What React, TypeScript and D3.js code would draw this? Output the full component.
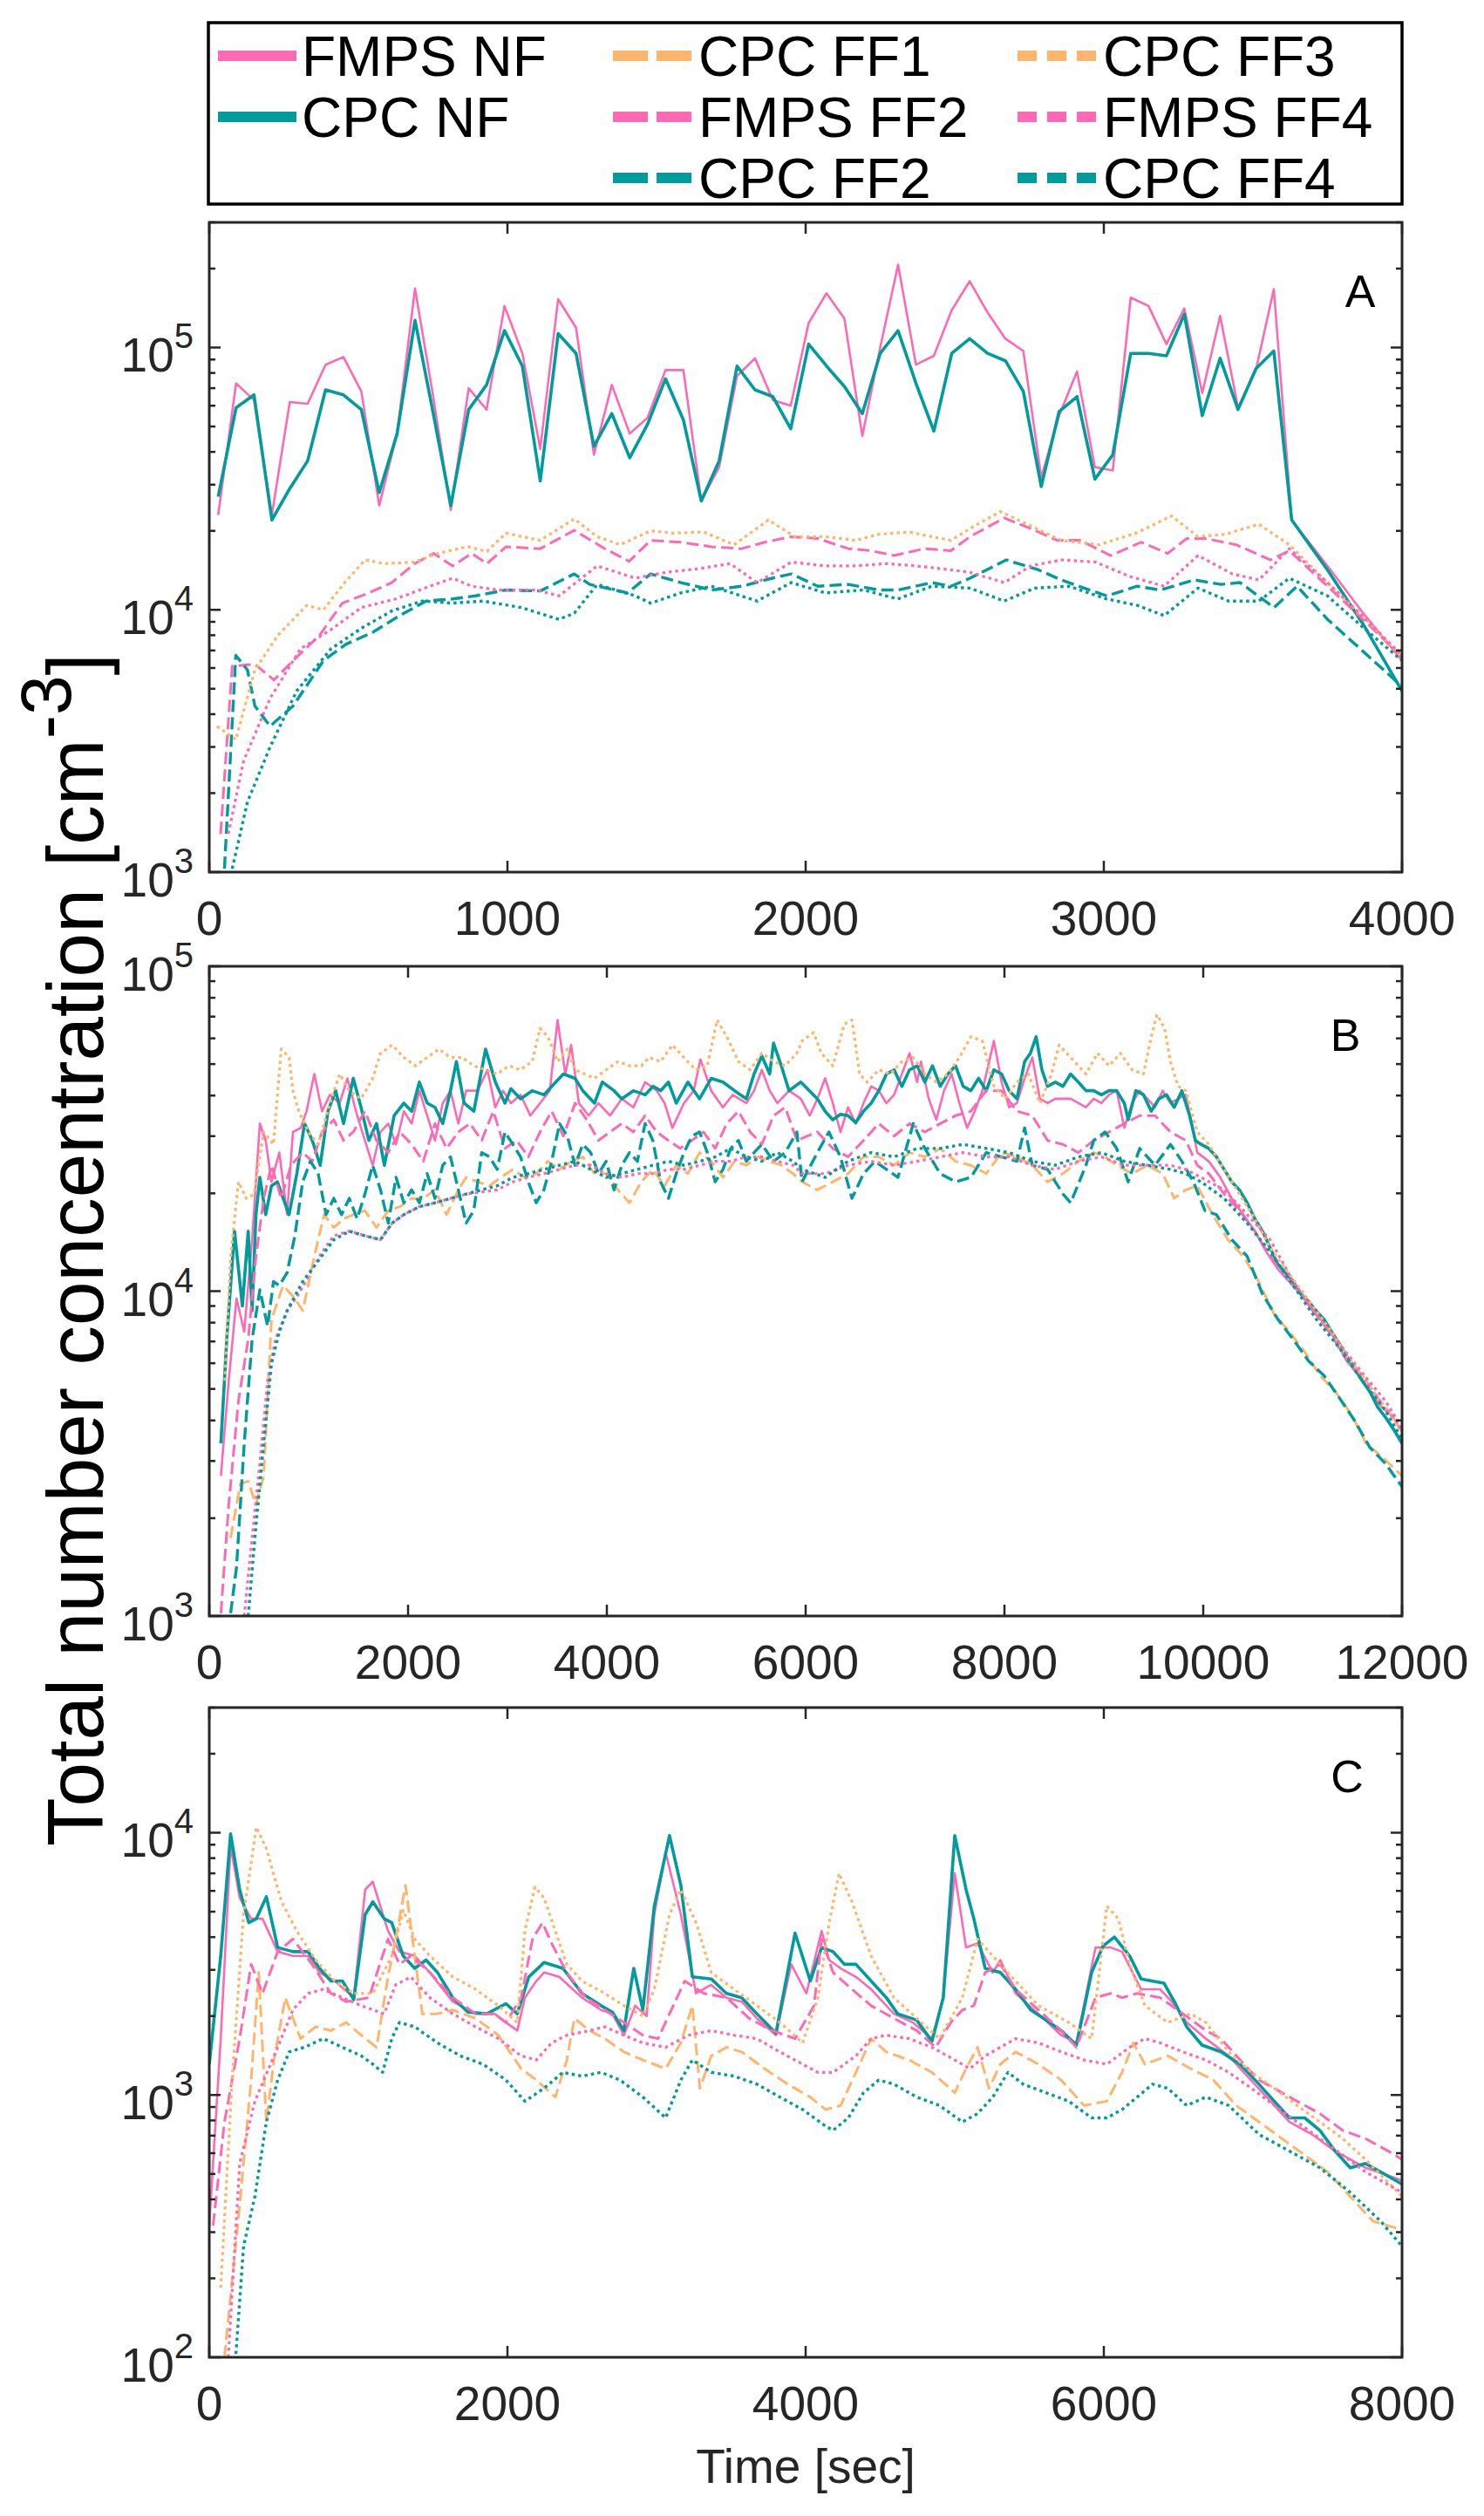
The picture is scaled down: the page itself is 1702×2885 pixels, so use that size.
import React from "react";
import * as d3 from "d3";

type Pt = [number, number];

// ---- colours / series styles ----
const PINK = "#FF69B4";
const TEAL = "#009B9B";
const ORANGE = "#FFB56B";

const seriesNames = ["FMPS NF", "CPC NF", "CPC FF1", "FMPS FF2", "CPC FF2", "CPC FF3", "FMPS FF4", "CPC FF4"];

const seriesStyle: Record<string, { color: string; dash: string | null; width: number; legendDash: string | null }> = {
  "FMPS NF": { color: PINK, dash: null, width: 2.6, legendDash: null },
  "CPC NF": { color: TEAL, dash: null, width: 3.6, legendDash: null },
  "CPC FF1": { color: ORANGE, dash: "14 6", width: 3, legendDash: "40 10" },
  "FMPS FF2": { color: PINK, dash: "14 6", width: 3, legendDash: "40 10" },
  "CPC FF2": { color: TEAL, dash: "14 6", width: 3.4, legendDash: "40 10" },
  "CPC FF3": { color: ORANGE, dash: "3.5 4", width: 3.2, legendDash: "22 12" },
  "FMPS FF4": { color: PINK, dash: "3.5 4", width: 3.2, legendDash: "22 12" },
  "CPC FF4": { color: TEAL, dash: "3.5 4", width: 3.4, legendDash: "22 12" },
};

// ---- panel A data (time [s], concentration [cm^-3]) ----
const timeA_NF = [30, 90, 150, 210, 270, 330, 390, 450, 510, 570, 630, 690, 750, 810, 870, 930, 990, 1050, 1110, 1170,
  1230, 1290, 1350, 1410, 1470, 1530, 1590, 1650, 1710, 1770, 1830, 1890, 1950, 2010, 2070, 2130, 2190, 2250, 2310, 2370,
  2430, 2490, 2550, 2610, 2670, 2730, 2790, 2850, 2910, 2970, 3030, 3090, 3150, 3210, 3270, 3330, 3390, 3450, 3510, 3570,
  3630, 3750, 3870, 4000];

const A_FMPS_NF = [2.3e4, 7.3e4, 6.3e4, 2.3e4, 6.2e4, 6.1e4, 8.6e4, 9.2e4, 6.8e4, 2.5e4, 4.7e4, 1.68e5, 6.6e4, 2.4e4, 7.0e4,
  5.8e4, 1.44e5, 9.5e4, 4.1e4, 1.53e5, 1.19e5, 3.9e4, 7.2e4, 4.7e4, 5.4e4, 8.2e4, 8.2e4, 2.6e4, 3.5e4, 7.8e4, 9.1e4, 6.3e4,
  6.0e4, 1.24e5, 1.61e5, 1.29e5, 4.6e4, 1.0e5, 2.07e5, 8.6e4, 9.3e4, 1.39e5, 1.79e5, 1.36e5, 1.08e5, 9.7e4, 3.2e4, 5.5e4,
  8.1e4, 3.5e4, 3.4e4, 1.55e5, 1.44e5, 1.03e5, 1.41e5, 6.7e4, 1.32e5, 5.9e4, 8.2e4, 1.67e5, 2.2e4, 1.47e4, 9.7e3, 6.4e3];

const A_CPC_NF = [2.7e4, 5.9e4, 6.6e4, 2.2e4, 2.9e4, 3.7e4, 6.9e4, 6.6e4, 5.8e4, 2.8e4, 4.7e4, 1.27e5, 5.7e4, 2.5e4, 5.8e4,
  7.2e4, 1.16e5, 8.5e4, 3.1e4, 1.13e5, 9.5e4, 4.2e4, 5.6e4, 3.8e4, 5.1e4, 7.6e4, 5.3e4, 2.6e4, 3.7e4, 8.5e4, 6.9e4, 6.5e4,
  4.9e4, 1.03e5, 8.5e4, 7.1e4, 5.6e4, 9.5e4, 1.16e5, 7.3e4, 4.8e4, 9.5e4, 1.08e5, 9.5e4, 8.9e4, 6.8e4, 2.95e4, 5.7e4,
  6.5e4, 3.15e4, 3.9e4, 9.5e4, 9.5e4, 9.3e4, 1.34e5, 5.5e4, 9.1e4, 5.8e4, 8.3e4, 9.7e4, 2.2e4, 1.42e4, 8.8e3, 4.9e3];

const A_CPC_FF3: Pt[] = [[26, 3600], [89, 3200], [153, 5900], [230, 8000], [327, 1.04e4], [383, 1.0e4], [454, 1.27e4],
  [523, 1.55e4], [587, 1.5e4], [689, 1.52e4], [765, 1.64e4], [867, 1.74e4], [931, 1.67e4], [995, 1.96e4], [1110, 1.84e4],
  [1224, 2.22e4], [1301, 1.9e4], [1378, 1.77e4], [1480, 2.0e4], [1556, 1.96e4], [1658, 1.98e4], [1760, 1.77e4],
  [1875, 2.2e4], [1964, 1.9e4], [2066, 1.9e4], [2168, 1.84e4], [2245, 1.94e4], [2347, 1.98e4], [2423, 1.9e4],
  [2487, 1.84e4], [2551, 2.04e4], [2653, 2.37e4], [2755, 2.09e4], [2857, 1.84e4], [2985, 1.77e4], [3112, 1.97e4],
  [3227, 2.28e4], [3316, 1.9e4], [3406, 1.94e4], [3520, 2.12e4], [3622, 1.77e4], [3750, 1.27e4], [3878, 9200], [4000, 6600]];

const A_FMPS_FF2: Pt[] = [[38, 1400], [77, 6100], [153, 6200], [217, 5400], [281, 6400], [370, 8000], [446, 1.06e4],
  [536, 1.16e4], [612, 1.27e4], [689, 1.5e4], [753, 1.64e4], [816, 1.47e4], [880, 1.64e4], [931, 1.5e4], [995, 1.74e4],
  [1110, 1.71e4], [1224, 2.01e4], [1327, 1.71e4], [1408, 1.53e4], [1480, 1.84e4], [1582, 1.81e4], [1684, 1.74e4],
  [1786, 1.71e4], [1862, 1.81e4], [1952, 1.9e4], [2041, 1.87e4], [2143, 1.71e4], [2219, 1.68e4], [2296, 1.61e4],
  [2398, 1.71e4], [2487, 1.68e4], [2551, 1.9e4], [2666, 2.24e4], [2755, 2.04e4], [2844, 1.84e4], [2921, 1.84e4],
  [3023, 1.61e4], [3125, 1.81e4], [3214, 1.64e4], [3278, 1.87e4], [3342, 1.87e4], [3444, 1.77e4], [3559, 1.55e4],
  [3622, 1.68e4], [3750, 1.23e4], [3878, 9000], [4000, 6600]];

const A_FMPS_FF4: Pt[] = [[64, 1400], [115, 2650], [204, 4600], [306, 7100], [408, 8400], [510, 1.02e4], [625, 1.1e4],
  [740, 1.23e4], [816, 1.32e4], [880, 1.23e4], [969, 1.19e4], [1097, 1.19e4], [1173, 1.13e4], [1301, 1.47e4],
  [1429, 1.32e4], [1531, 1.39e4], [1633, 1.43e4], [1747, 1.5e4], [1837, 1.27e4], [1952, 1.52e4], [2066, 1.47e4],
  [2168, 1.47e4], [2270, 1.5e4], [2372, 1.47e4], [2487, 1.42e4], [2551, 1.39e4], [2666, 1.27e4], [2755, 1.47e4],
  [2857, 1.55e4], [2972, 1.52e4], [3087, 1.34e4], [3202, 1.23e4], [3316, 1.61e4], [3431, 1.37e4], [3520, 1.3e4],
  [3622, 1.71e4], [3750, 1.27e4], [3878, 9200], [4000, 6700]];

const A_CPC_FF2: Pt[] = [[51, 1030], [89, 6700], [128, 5900], [153, 4300], [204, 3600], [281, 4300], [383, 6400],
  [459, 7400], [548, 8200], [638, 9500], [727, 1.08e4], [816, 1.1e4], [893, 1.13e4], [995, 1.19e4], [1110, 1.18e4],
  [1224, 1.37e4], [1276, 1.25e4], [1403, 1.16e4], [1480, 1.37e4], [1582, 1.27e4], [1684, 1.19e4], [1786, 1.23e4],
  [1888, 1.32e4], [1952, 1.37e4], [2041, 1.23e4], [2143, 1.25e4], [2245, 1.19e4], [2309, 1.19e4], [2423, 1.27e4],
  [2487, 1.23e4], [2551, 1.32e4], [2673, 1.55e4], [2781, 1.42e4], [2857, 1.3e4], [2934, 1.21e4], [3010, 1.13e4],
  [3112, 1.23e4], [3189, 1.19e4], [3304, 1.3e4], [3393, 1.25e4], [3457, 1.27e4], [3571, 1.02e4], [3648, 1.23e4],
  [3750, 9200], [3878, 6800], [4000, 5100]];

const A_CPC_FF4: Pt[] = [[77, 1030], [128, 1850], [204, 3000], [293, 4900], [408, 7100], [510, 8500], [612, 9900],
  [714, 1.08e4], [816, 1.06e4], [918, 1.08e4], [1046, 1.02e4], [1173, 9200], [1224, 9700], [1301, 1.25e4], [1429, 1.13e4],
  [1480, 1.06e4], [1582, 1.16e4], [1684, 1.23e4], [1837, 1.08e4], [1952, 1.27e4], [2066, 1.16e4], [2194, 1.19e4],
  [2309, 1.1e4], [2423, 1.23e4], [2551, 1.21e4], [2666, 1.08e4], [2768, 1.21e4], [2883, 1.23e4], [3010, 1.1e4],
  [3112, 1.04e4], [3202, 9500], [3316, 1.21e4], [3418, 1.08e4], [3520, 1.08e4], [3622, 1.32e4], [3750, 1.13e4],
  [3878, 8400], [4000, 6400]];

// ---- panel B data ----
const B_CPC_NF: Pt[] = [[117, 3400], [176, 7100], [254, 1.53e4], [333, 9000], [392, 1.53e4], [431, 8700], [470, 1.72e4],
  [509, 2.24e4], [568, 1.72e4], [626, 2.11e4], [685, 2.17e4], [744, 1.93e4], [803, 1.72e4], [881, 2.3e4], [959, 3.28e4],
  [1037, 2.91e4], [1116, 2.44e4], [1194, 3.58e4], [1272, 4.14e4], [1351, 3.28e4], [1449, 4.52e4], [1527, 3.68e4],
  [1605, 2.91e4], [1683, 3.28e4], [1762, 2.44e4], [1860, 3.47e4], [1958, 3.79e4], [2036, 3.58e4], [2114, 4.4e4],
  [2192, 3.79e4], [2271, 3.68e4], [2349, 3.28e4], [2427, 4.14e4], [2486, 5.09e4], [2564, 3.79e4], [2662, 3.58e4],
  [2780, 5.56e4], [2878, 4.4e4], [2975, 3.79e4], [3034, 4.2e4], [3132, 3.91e4], [3249, 4.14e4], [3367, 4.02e4],
  [3445, 4.27e4], [3563, 4.66e4], [3680, 4.52e4], [3758, 4.14e4], [3876, 3.79e4], [3954, 4.4e4], [4072, 4.14e4],
  [4150, 3.91e4], [4267, 4.14e4], [4385, 4.02e4], [4463, 4.27e4], [4541, 4.14e4], [4620, 4.4e4], [4698, 3.79e4],
  [4815, 4.4e4], [4933, 3.91e4], [5050, 4.52e4], [5168, 4.4e4], [5285, 4.14e4], [5403, 3.91e4], [5481, 4.66e4],
  [5559, 5.3e4], [5638, 4.66e4], [5677, 5.8e4], [5755, 4.94e4], [5833, 4.14e4], [5951, 4.4e4], [6118, 3.91e4],
  [6196, 3.58e4], [6273, 3.37e4], [6350, 3.5e4], [6427, 3.47e4], [6504, 3.3e4], [6582, 3.58e4], [6659, 3.79e4],
  [6736, 4.14e4], [6813, 4.66e4], [6890, 4.8e4], [6968, 4.27e4], [7045, 4.8e4], [7122, 4.94e4], [7199, 4.4e4],
  [7276, 4.94e4], [7354, 4.27e4], [7431, 4.66e4], [7508, 4.94e4], [7585, 4.27e4], [7662, 4.14e4], [7740, 4.52e4],
  [7817, 4.14e4], [7894, 4.8e4], [7971, 4.66e4], [8048, 4.14e4], [8126, 3.91e4], [8203, 5.09e4], [8261, 5.4e4],
  [8319, 6.07e4], [8377, 4.8e4], [8434, 4.27e4], [8512, 4.4e4], [8589, 4.27e4], [8666, 4.66e4], [8743, 4.4e4],
  [8820, 4.14e4], [8898, 4.14e4], [8975, 4.02e4], [9052, 4.14e4], [9129, 4.14e4], [9206, 3.79e4], [9245, 3.37e4],
  [9322, 4.14e4], [9399, 4.02e4], [9477, 3.58e4], [9554, 3.91e4], [9631, 4.02e4], [9708, 3.68e4], [9785, 4.14e4],
  [9863, 3.47e4], [9921, 2.91e4], [9978, 2.83e4], [10056, 2.75e4], [10133, 2.59e4], [10210, 2.37e4], [10287, 2.17e4],
  [10364, 2.05e4], [10442, 1.87e4], [10519, 1.67e4], [10596, 1.53e4], [10673, 1.36e4], [10750, 1.21e4], [10828, 1.14e4],
  [10905, 1.07e4], [10982, 9800], [11059, 9300], [11136, 8700], [11214, 8200], [11291, 7500], [11368, 6900],
  [11445, 6300], [11522, 5800], [11600, 5300], [11677, 4900], [11754, 4400], [11831, 4100], [11928, 3700], [12000, 3400]];

const B_FMPS_NF: Pt[] = [[117, 2700], [196, 5300], [274, 9500], [352, 7500], [431, 1.44e4], [509, 3.28e4], [568, 2.91e4],
  [626, 2.17e4], [705, 2.67e4], [783, 1.72e4], [842, 3.09e4], [920, 3.18e4], [979, 3.58e4], [1057, 4.66e4], [1135, 3.58e4],
  [1214, 4.02e4], [1312, 3.79e4], [1390, 4.52e4], [1488, 3.47e4], [1566, 2.91e4], [1644, 2.44e4], [1723, 3.09e4],
  [1801, 3.28e4], [1879, 2.83e4], [1958, 3.58e4], [2036, 3.28e4], [2114, 4.14e4], [2192, 3.47e4], [2271, 2.91e4],
  [2349, 3.79e4], [2427, 4.14e4], [2506, 3.28e4], [2584, 4.14e4], [2701, 4.14e4], [2799, 4.8e4], [2878, 3.68e4],
  [2956, 4.14e4], [3034, 3.79e4], [3132, 4.02e4], [3230, 3.47e4], [3328, 3.79e4], [3426, 4.14e4], [3504, 6.83e4],
  [3582, 4.66e4], [3641, 5.72e4], [3719, 3.79e4], [3817, 3.47e4], [3915, 3.79e4], [4032, 3.47e4], [4150, 3.91e4],
  [4267, 3.68e4], [4385, 4.4e4], [4502, 4.14e4], [4581, 3.79e4], [4659, 3.18e4], [4776, 3.79e4], [4874, 4.14e4],
  [4941, 5.17e4], [5050, 4.14e4], [5168, 3.68e4], [5266, 4.02e4], [5403, 3.79e4], [5481, 4.14e4], [5559, 4.8e4],
  [5638, 4.14e4], [5716, 3.79e4], [5833, 4.14e4], [5951, 3.91e4], [6041, 3.47e4], [6118, 3.91e4], [6196, 4.52e4],
  [6273, 3.79e4], [6350, 3.09e4], [6427, 3.68e4], [6504, 3.28e4], [6582, 3.79e4], [6659, 4.27e4], [6736, 4.14e4],
  [6813, 3.79e4], [6890, 4.02e4], [6968, 4.66e4], [7045, 5.4e4], [7122, 4.4e4], [7161, 5.09e4], [7238, 3.91e4],
  [7315, 3.37e4], [7392, 4.14e4], [7469, 4.66e4], [7547, 3.79e4], [7624, 3.18e4], [7701, 3.58e4], [7778, 4.14e4],
  [7894, 5.89e4], [7971, 4.4e4], [8048, 3.68e4], [8126, 3.79e4], [8203, 4.52e4], [8280, 5.24e4], [8357, 3.91e4],
  [8434, 3.79e4], [8512, 3.91e4], [8666, 3.91e4], [8820, 3.68e4], [8898, 3.91e4], [8975, 3.79e4], [9052, 4.02e4],
  [9129, 4.14e4], [9206, 3.18e4], [9284, 3.79e4], [9361, 4.14e4], [9438, 3.91e4], [9515, 3.68e4], [9592, 4.14e4],
  [9670, 3.79e4], [9747, 3.91e4], [9824, 4.02e4], [9901, 3.09e4], [9940, 2.67e4], [10056, 2.51e4], [10171, 2.24e4],
  [10287, 1.93e4], [10403, 1.72e4], [10519, 1.53e4], [10635, 1.32e4], [10750, 1.17e4], [10866, 1.07e4], [10982, 9800],
  [11098, 8700], [11214, 8000], [11329, 7100], [11445, 6100], [11561, 5500], [11677, 4900], [11793, 4400], [11908, 4100],
  [12000, 3700]];

const B_CPC_FF3: Pt[] = [[157, 5300], [215, 1.28e4], [294, 2.17e4], [372, 1.93e4], [450, 1.99e4], [548, 3.09e4],
  [646, 2.83e4], [724, 5.56e4], [803, 5.24e4], [842, 4.14e4], [900, 3.58e4], [998, 3.09e4], [1096, 2.83e4], [1214, 3.79e4],
  [1312, 4.66e4], [1409, 4.14e4], [1527, 3.91e4], [1644, 4.52e4], [1723, 5.4e4], [1840, 5.72e4], [1958, 5.24e4],
  [2075, 4.94e4], [2192, 5.24e4], [2310, 5.56e4], [2427, 5.24e4], [2545, 5.24e4], [2662, 4.94e4], [2780, 4.8e4],
  [2897, 4.66e4], [3015, 4.94e4], [3132, 4.8e4], [3249, 5.09e4], [3328, 6.44e4], [3406, 6.07e4], [3504, 5.09e4],
  [3602, 5.56e4], [3680, 4.8e4], [3778, 4.66e4], [3876, 4.52e4], [3993, 4.8e4], [4111, 5.09e4], [4228, 4.94e4],
  [4346, 4.94e4], [4424, 5.24e4], [4541, 5.09e4], [4659, 5.72e4], [4776, 5.24e4], [4894, 4.8e4], [5011, 4.94e4],
  [5109, 6.83e4], [5207, 6.07e4], [5324, 5.09e4], [5442, 4.8e4], [5559, 5.4e4], [5677, 5.09e4], [5794, 4.94e4],
  [5912, 5.4e4], [5964, 5.89e4], [6080, 6.25e4], [6157, 5.4e4], [6273, 4.94e4], [6389, 6.63e4], [6466, 6.83e4],
  [6543, 4.66e4], [6620, 4.4e4], [6736, 4.8e4], [6852, 4.66e4], [6968, 5.09e4], [7083, 5.24e4], [7199, 4.66e4],
  [7315, 4.4e4], [7431, 4.66e4], [7547, 5.24e4], [7662, 6.07e4], [7778, 5.89e4], [7894, 4.27e4], [8010, 3.91e4],
  [8126, 4.4e4], [8241, 4.66e4], [8357, 3.79e4], [8473, 4.66e4], [8550, 5.72e4], [8666, 5.24e4], [8820, 4.66e4],
  [8936, 5.4e4], [9052, 4.94e4], [9168, 5.4e4], [9284, 4.8e4], [9399, 4.66e4], [9477, 6.07e4], [9535, 7.1e4],
  [9612, 6.44e4], [9670, 5.09e4], [9747, 4.27e4], [9824, 4.14e4], [9940, 3.09e4], [10056, 2.83e4], [10210, 2.37e4],
  [10364, 1.99e4], [10519, 1.67e4], [10673, 1.36e4], [10828, 1.17e4], [10982, 1.01e4], [11136, 8700], [11291, 7500],
  [11445, 6300], [11600, 5500], [11754, 4700], [11908, 4100], [12000, 3700]];

const B_CPC_FF1: Pt[] = [[215, 1740], [313, 2550], [392, 2600], [470, 2200], [548, 2700], [626, 8200], [744, 1.04e4],
  [861, 9500], [940, 8700], [1057, 1.28e4], [1155, 1.72e4], [1253, 1.57e4], [1351, 1.67e4], [1449, 1.72e4],
  [1566, 1.77e4], [1683, 1.57e4], [1801, 1.77e4], [1918, 1.82e4], [2036, 1.93e4], [2153, 1.93e4], [2271, 2.05e4],
  [2388, 1.72e4], [2506, 2.05e4], [2584, 2.24e4], [2701, 2.17e4], [2819, 2.11e4], [2936, 2.24e4], [3054, 2.37e4],
  [3171, 2.24e4], [3289, 2.3e4], [3406, 2.51e4], [3524, 2.37e4], [3641, 2.51e4], [3758, 2.59e4], [3876, 2.3e4],
  [3993, 2.3e4], [4111, 2.05e4], [4228, 1.87e4], [4346, 2.17e4], [4463, 2.37e4], [4581, 2.11e4], [4698, 2.44e4],
  [4815, 2.3e4], [4933, 2.67e4], [5050, 2.51e4], [5168, 2.24e4], [5285, 2.51e4], [5403, 2.44e4], [5520, 2.59e4],
  [5638, 2.51e4], [5755, 2.44e4], [5873, 2.3e4], [5964, 2.17e4], [6118, 2.05e4], [6273, 2.17e4], [6427, 2.3e4],
  [6582, 2.59e4], [6736, 2.59e4], [6890, 2.44e4], [7045, 2.67e4], [7199, 2.59e4], [7354, 2.75e4], [7508, 2.51e4],
  [7662, 2.44e4], [7817, 2.3e4], [7971, 2.67e4], [8126, 2.59e4], [8280, 2.44e4], [8434, 2.17e4], [8589, 2.3e4],
  [8743, 2.51e4], [8898, 2.67e4], [9013, 2.59e4], [9129, 2.44e4], [9284, 2.3e4], [9438, 2.44e4], [9592, 2.3e4],
  [9708, 1.93e4], [9824, 2.05e4], [9940, 2.11e4], [10094, 1.72e4], [10249, 1.44e4], [10403, 1.28e4], [10557, 1.07e4],
  [10712, 8500], [10866, 7500], [11021, 6500], [11175, 5500], [11329, 4900], [11484, 4200], [11638, 3400], [11793, 3100],
  [12000, 2700]];

const B_FMPS_FF2: Pt[] = [[117, 1020], [196, 2200], [294, 4600], [392, 7100], [470, 1.28e4], [548, 1.93e4], [626, 2.44e4],
  [724, 1.93e4], [822, 2.44e4], [940, 2.67e4], [1037, 2.51e4], [1135, 3.09e4], [1253, 3.37e4], [1351, 2.91e4],
  [1449, 3.09e4], [1566, 3.58e4], [1683, 2.91e4], [1801, 2.67e4], [1918, 3.09e4], [2036, 2.83e4], [2153, 2.51e4],
  [2271, 3.28e4], [2388, 2.75e4], [2506, 3.09e4], [2623, 3.28e4], [2741, 2.91e4], [2858, 3.58e4], [2975, 2.75e4],
  [3093, 2.91e4], [3210, 2.59e4], [3328, 3.09e4], [3445, 3.58e4], [3563, 3.0e4], [3680, 3.79e4], [3798, 3.37e4],
  [3915, 2.91e4], [4032, 3.09e4], [4150, 3.28e4], [4267, 3.09e4], [4385, 3.47e4], [4502, 3.09e4], [4620, 2.91e4],
  [4737, 2.75e4], [4855, 2.91e4], [4972, 3.09e4], [5090, 2.75e4], [5207, 3.28e4], [5324, 3.58e4], [5442, 3.09e4],
  [5559, 2.83e4], [5677, 3.47e4], [5794, 3.68e4], [5912, 2.91e4], [6118, 3.09e4], [6273, 2.75e4], [6427, 2.59e4],
  [6582, 2.91e4], [6736, 3.28e4], [6890, 3.0e4], [7045, 3.28e4], [7199, 3.09e4], [7354, 3.28e4], [7508, 3.47e4],
  [7662, 3.58e4], [7817, 4.14e4], [7971, 4.14e4], [8126, 3.58e4], [8280, 3.47e4], [8434, 2.91e4], [8589, 2.83e4],
  [8743, 2.67e4], [8898, 2.91e4], [9052, 3.09e4], [9206, 3.28e4], [9361, 3.47e4], [9515, 3.47e4], [9670, 3.09e4],
  [9824, 2.91e4], [9940, 2.44e4], [10056, 2.3e4], [10210, 1.99e4], [10364, 1.77e4], [10519, 1.53e4], [10673, 1.28e4],
  [10828, 1.1e4], [10982, 9800], [11136, 8500], [11291, 7300], [11445, 6100], [11600, 5500], [11754, 4700], [11908, 4100],
  [12000, 3700]];

const B_CPC_FF2: Pt[] = [[215, 1020], [274, 1410], [352, 3400], [431, 7100], [509, 1.01e4], [587, 7800], [646, 1.07e4],
  [705, 1.04e4], [783, 1.14e4], [861, 1.48e4], [940, 2.17e4], [1018, 2.51e4], [1096, 2.3e4], [1175, 1.72e4],
  [1253, 1.93e4], [1331, 1.72e4], [1409, 1.93e4], [1488, 1.67e4], [1566, 1.99e4], [1644, 2.44e4], [1723, 2.05e4],
  [1801, 1.62e4], [1879, 2.24e4], [1958, 1.87e4], [2036, 2.05e4], [2114, 1.87e4], [2192, 2.3e4], [2271, 1.93e4],
  [2349, 2.44e4], [2427, 2.59e4], [2506, 2.05e4], [2584, 1.62e4], [2662, 1.77e4], [2741, 2.67e4], [2819, 2.59e4],
  [2897, 2.37e4], [2975, 3.09e4], [3054, 2.83e4], [3132, 2.59e4], [3210, 2.17e4], [3289, 1.87e4], [3367, 2.05e4],
  [3445, 2.51e4], [3524, 3.28e4], [3602, 3.0e4], [3680, 2.44e4], [3758, 2.83e4], [3837, 2.67e4], [3915, 2.3e4],
  [3993, 2.51e4], [4072, 2.05e4], [4150, 2.44e4], [4228, 2.67e4], [4307, 2.51e4], [4385, 3.28e4], [4463, 2.91e4],
  [4541, 2.17e4], [4620, 1.93e4], [4698, 2.3e4], [4776, 2.67e4], [4855, 3.0e4], [4933, 3.09e4], [5011, 2.67e4],
  [5090, 2.17e4], [5168, 2.37e4], [5246, 2.75e4], [5324, 2.91e4], [5403, 2.51e4], [5481, 2.67e4], [5559, 2.83e4],
  [5677, 2.51e4], [5794, 2.67e4], [5912, 3.09e4], [5964, 2.17e4], [6118, 2.67e4], [6234, 3.09e4], [6350, 2.59e4],
  [6466, 1.93e4], [6582, 2.3e4], [6697, 2.51e4], [6813, 2.37e4], [6929, 2.24e4], [7083, 3.28e4], [7199, 2.75e4],
  [7354, 2.3e4], [7508, 2.17e4], [7662, 2.24e4], [7817, 2.67e4], [7971, 2.59e4], [8126, 2.51e4], [8203, 3.18e4],
  [8280, 2.44e4], [8434, 2.37e4], [8589, 1.99e4], [8666, 1.87e4], [8820, 2.44e4], [8898, 2.91e4], [9013, 3.09e4],
  [9129, 2.75e4], [9245, 2.17e4], [9361, 2.75e4], [9515, 2.44e4], [9670, 2.83e4], [9785, 2.51e4], [9901, 2.17e4],
  [10017, 1.77e4], [10133, 1.72e4], [10287, 1.44e4], [10442, 1.28e4], [10596, 9800], [10750, 8200], [10905, 7100],
  [11059, 6100], [11214, 5500], [11368, 4700], [11522, 4000], [11677, 3300], [11831, 2950], [12000, 2500]];

const B_FMPS_FF4: Pt[] = [[352, 1000], [431, 1740], [509, 2950], [587, 5300], [666, 7100], [783, 8700], [900, 9800],
  [1018, 1.14e4], [1135, 1.32e4], [1253, 1.48e4], [1409, 1.53e4], [1566, 1.48e4], [1723, 1.44e4], [1840, 1.62e4],
  [1958, 1.72e4], [2114, 1.82e4], [2271, 1.87e4], [2427, 1.93e4], [2584, 1.99e4], [2741, 2.02e4], [2897, 2.05e4],
  [3054, 2.17e4], [3210, 2.24e4], [3367, 2.3e4], [3524, 2.37e4], [3680, 2.44e4], [3837, 2.44e4], [3993, 2.3e4],
  [4150, 2.24e4], [4307, 2.3e4], [4463, 2.3e4], [4620, 2.37e4], [4776, 2.37e4], [4933, 2.44e4], [5090, 2.51e4],
  [5246, 2.51e4], [5403, 2.59e4], [5559, 2.59e4], [5716, 2.51e4], [5873, 2.44e4], [5964, 2.3e4], [6196, 2.3e4],
  [6427, 2.44e4], [6659, 2.51e4], [6890, 2.44e4], [7122, 2.51e4], [7354, 2.59e4], [7585, 2.67e4], [7817, 2.59e4],
  [8048, 2.59e4], [8280, 2.44e4], [8512, 2.37e4], [8743, 2.51e4], [8975, 2.59e4], [9206, 2.44e4], [9438, 2.44e4],
  [9670, 2.44e4], [9824, 2.37e4], [9978, 2.24e4], [10210, 2.05e4], [10442, 1.72e4], [10673, 1.44e4], [10905, 1.07e4],
  [11136, 8500], [11368, 6900], [11600, 5600], [11831, 4600], [12000, 3800]];

const B_CPC_FF4: Pt[] = [[392, 1000], [470, 1900], [548, 3400], [626, 6000], [705, 7500], [783, 8700], [940, 1.07e4],
  [1096, 1.24e4], [1253, 1.44e4], [1409, 1.53e4], [1566, 1.48e4], [1723, 1.44e4], [1840, 1.62e4], [1958, 1.72e4],
  [2114, 1.82e4], [2271, 1.87e4], [2427, 1.93e4], [2584, 1.99e4], [2741, 2.05e4], [2897, 2.11e4], [3054, 2.24e4],
  [3210, 2.3e4], [3367, 2.37e4], [3524, 2.44e4], [3680, 2.51e4], [3837, 2.37e4], [3993, 2.24e4], [4150, 2.3e4],
  [4307, 2.37e4], [4463, 2.44e4], [4620, 2.51e4], [4776, 2.44e4], [4933, 2.51e4], [5090, 2.59e4], [5246, 2.75e4],
  [5403, 2.59e4], [5559, 2.51e4], [5716, 2.67e4], [5873, 2.51e4], [5964, 2.37e4], [6196, 2.24e4], [6427, 2.51e4],
  [6659, 2.67e4], [6890, 2.59e4], [7122, 2.75e4], [7354, 2.75e4], [7585, 2.83e4], [7817, 2.75e4], [8048, 2.67e4],
  [8280, 2.51e4], [8512, 2.44e4], [8743, 2.59e4], [8975, 2.67e4], [9206, 2.51e4], [9438, 2.44e4], [9670, 2.37e4],
  [9824, 2.3e4], [9978, 2.17e4], [10210, 1.93e4], [10442, 1.62e4], [10673, 1.32e4], [10905, 1.04e4], [11136, 8200],
  [11368, 6700], [11600, 5300], [11831, 4300], [12000, 3500]];

// ---- panel C data ----
const C_CPC_NF: Pt[] = [[0, 1310], [77, 3390], [143, 9900], [204, 6070], [265, 4540], [316, 4700], [383, 5700], [459, 3650],
  [561, 3520], [663, 3520], [740, 3040], [816, 2720], [893, 2720], [969, 2310], [1046, 4880], [1097, 5450], [1173, 4700],
  [1224, 4540], [1301, 3390], [1378, 3040], [1454, 3270], [1531, 2930], [1633, 2350], [1735, 2070], [1862, 2040],
  [1990, 2230], [2066, 2040], [2143, 2820], [2245, 3200], [2372, 3040], [2500, 2440], [2628, 2190], [2704, 2070],
  [2781, 1760], [2847, 3040], [2908, 2110], [2985, 5250], [3087, 9750], [3163, 6300], [3240, 2820], [3367, 2770],
  [3469, 2440], [3571, 2350], [3673, 2040], [3801, 1720], [3929, 4140], [4031, 2720], [4107, 3650], [4184, 3520],
  [4260, 3150], [4337, 3150], [4439, 2720], [4541, 2350], [4617, 2040], [4745, 1930], [4847, 1600], [4923, 2350],
  [5000, 9750], [5076, 6070], [5128, 4700], [5204, 3040], [5306, 2930], [5408, 2530], [5510, 2110], [5612, 1930],
  [5714, 1760], [5816, 1550], [5918, 2930], [5995, 3700], [6071, 4000], [6173, 3390], [6250, 2770], [6403, 2670],
  [6480, 2230], [6556, 1820], [6658, 1550], [6786, 1460], [6913, 1310], [7015, 1140], [7143, 947], [7245, 818],
  [7347, 818], [7449, 733], [7551, 611], [7653, 528], [7755, 548], [7857, 509], [8000, 457]];

const C_FMPS_NF: Pt[] = [[0, 318], [77, 1640], [143, 8900], [204, 5650], [281, 4700], [357, 4700], [459, 3520], [561, 3390],
  [663, 3390], [740, 2930], [842, 2720], [969, 2350], [1046, 6070], [1097, 6500], [1199, 4220], [1276, 3520], [1378, 3390],
  [1480, 2930], [1633, 2270], [1786, 2040], [1913, 2040], [1990, 1890], [2066, 1760], [2117, 2350], [2194, 2720],
  [2245, 2930], [2347, 2820], [2500, 2350], [2628, 2110], [2704, 2040], [2781, 1690], [2857, 2190], [2934, 2000],
  [2985, 4880], [3061, 8400], [3163, 4880], [3265, 2440], [3367, 2630], [3469, 2350], [3571, 2270], [3673, 1960],
  [3801, 1690], [3903, 3150], [4005, 2440], [4107, 4220], [4158, 3270], [4235, 3040], [4337, 2820], [4439, 2530],
  [4592, 2040], [4719, 1890], [4847, 1640], [4923, 2350], [5000, 7000], [5076, 3650], [5153, 3790], [5255, 2930],
  [5306, 3270], [5408, 2440], [5561, 2040], [5714, 1690], [5816, 1580], [5944, 3650], [6046, 3650], [6122, 3520],
  [6250, 2530], [6378, 2530], [6480, 2190], [6556, 1890], [6684, 1640], [6837, 1410], [6939, 1220], [7092, 982],
  [7245, 789], [7398, 707], [7551, 611], [7755, 528], [8000, 473]];

const C_CPC_FF3: Pt[] = [[77, 184], [153, 1140], [230, 4880], [316, 1.05e4], [383, 8700], [485, 5450], [587, 4220],
  [714, 3270], [842, 2720], [969, 2440], [1097, 2440], [1224, 3390], [1301, 5060], [1378, 3930], [1480, 3390], [1633, 2820],
  [1786, 2530], [1939, 2190], [2066, 1890], [2117, 4220], [2184, 6200], [2245, 5650], [2321, 4220], [2398, 3150],
  [2500, 2720], [2653, 2440], [2781, 2190], [2908, 2000], [2985, 2530], [3087, 4880], [3163, 6070], [3265, 4540],
  [3367, 2930], [3520, 2530], [3673, 2190], [3827, 1890], [3980, 1580], [4082, 2350], [4158, 4540], [4224, 7000],
  [4311, 5450], [4439, 3390], [4592, 2350], [4745, 1960], [4898, 1640], [5051, 2350], [5153, 3930], [5255, 3390],
  [5408, 2720], [5561, 2190], [5765, 1890], [5918, 1640], [6020, 5250], [6097, 4700], [6173, 3150], [6275, 2190],
  [6429, 1890], [6582, 2040], [6684, 1890], [6837, 1460], [6990, 1220], [7143, 1060], [7296, 912], [7449, 789],
  [7602, 682], [7755, 568], [8000, 410]];

const C_CPC_FF1: Pt[] = [[102, 100], [204, 381], [281, 1140], [332, 2930], [383, 789], [434, 1360], [510, 2350],
  [612, 1640], [714, 1820], [816, 1760], [918, 1890], [1020, 1690], [1122, 1520], [1199, 2820], [1250, 3930], [1316, 6300],
  [1378, 3390], [1429, 2040], [1531, 2040], [1633, 2110], [1786, 1960], [1939, 1690], [2092, 1260], [2194, 1140],
  [2321, 982], [2398, 1360], [2449, 1960], [2551, 1760], [2653, 1640], [2781, 1460], [2908, 1360], [3061, 1260],
  [3163, 1580], [3240, 2190], [3291, 1060], [3367, 1410], [3469, 1520], [3571, 1460], [3724, 1260], [3878, 1100],
  [4031, 982], [4133, 880], [4235, 912], [4337, 1220], [4439, 1640], [4541, 1460], [4694, 1360], [4847, 1220],
  [5000, 1020], [5076, 1260], [5153, 1520], [5230, 1060], [5306, 1310], [5408, 1460], [5561, 1310], [5714, 1140],
  [5867, 912], [6020, 947], [6122, 1220], [6199, 1580], [6275, 1310], [6429, 1410], [6582, 1260], [6735, 1140],
  [6888, 912], [7041, 789], [7194, 682], [7347, 590], [7500, 509], [7653, 410], [7806, 330], [8000, 306]];

const C_FMPS_FF2: Pt[] = [[26, 318], [102, 789], [204, 1640], [281, 3150], [357, 2440], [459, 3520], [561, 3930],
  [689, 3150], [816, 2440], [918, 2270], [1071, 2350], [1199, 3930], [1276, 3150], [1352, 3390], [1480, 2930],
  [1633, 2350], [1786, 2040], [1913, 2040], [1990, 1890], [2092, 2350], [2168, 3930], [2235, 4540], [2296, 3790],
  [2398, 2930], [2526, 2350], [2653, 2110], [2781, 1890], [2908, 1690], [3010, 1640], [3112, 2190], [3189, 2720],
  [3316, 2440], [3469, 2350], [3622, 1960], [3775, 1760], [3929, 1640], [4056, 2190], [4107, 3930], [4184, 2930],
  [4311, 2530], [4439, 2190], [4592, 1960], [4745, 1760], [4872, 1520], [4974, 1890], [5051, 2110], [5128, 2190],
  [5204, 2930], [5306, 3150], [5408, 2530], [5561, 2110], [5714, 1760], [5816, 1520], [5944, 2350], [6046, 2440],
  [6122, 2350], [6224, 2440], [6378, 2350], [6531, 2040], [6684, 1760], [6786, 1640], [6939, 1310], [7041, 1140],
  [7143, 1060], [7296, 947], [7449, 849], [7602, 733], [7755, 682], [7908, 611], [8000, 568]];

const C_FMPS_FF4: Pt[] = [[128, 100], [204, 548], [306, 947], [459, 1520], [561, 2110], [663, 2440], [765, 2530],
  [893, 2350], [1020, 2190], [1173, 2040], [1250, 2630], [1352, 2820], [1480, 2350], [1633, 2040], [1786, 1820],
  [1939, 1640], [2092, 1410], [2194, 1360], [2296, 1580], [2398, 1690], [2551, 1760], [2653, 1820], [2781, 1690],
  [2908, 1580], [3061, 1520], [3214, 1690], [3367, 1760], [3520, 1690], [3673, 1640], [3827, 1460], [3980, 1310],
  [4082, 1220], [4184, 1220], [4337, 1410], [4439, 1640], [4541, 1690], [4694, 1640], [4847, 1520], [5000, 1360],
  [5102, 1260], [5204, 1410], [5306, 1520], [5408, 1640], [5561, 1580], [5714, 1460], [5867, 1360], [6020, 1310],
  [6173, 1520], [6275, 1640], [6378, 1580], [6531, 1460], [6684, 1360], [6837, 1220], [6990, 1060], [7143, 912],
  [7296, 789], [7449, 682], [7602, 590], [7755, 509], [8000, 425]];

const C_CPC_FF4: Pt[] = [[179, 103], [230, 265], [306, 410], [383, 789], [459, 1140], [536, 1460], [638, 1520],
  [765, 1640], [893, 1520], [1020, 1410], [1097, 1310], [1163, 1220], [1224, 1640], [1276, 1890], [1378, 1820],
  [1531, 1580], [1684, 1410], [1837, 1310], [1990, 1140], [2117, 947], [2245, 1060], [2372, 1220], [2500, 1180],
  [2628, 1220], [2755, 1140], [2908, 982], [3061, 818], [3163, 1140], [3240, 1360], [3367, 1220], [3520, 1180],
  [3673, 1100], [3827, 982], [3980, 880], [4133, 761], [4184, 733], [4286, 818], [4388, 1020], [4490, 1140], [4592, 1100],
  [4745, 982], [4898, 912], [5051, 789], [5153, 849], [5255, 982], [5357, 1220], [5459, 1100], [5612, 1020], [5765, 947],
  [5918, 818], [6020, 818], [6122, 880], [6224, 982], [6327, 1100], [6429, 1060], [6556, 912], [6684, 982], [6837, 912],
  [7041, 707], [7245, 611], [7449, 528], [7653, 425], [7857, 330], [8000, 265]];

// ---- axis tick values ----
const xTicksA = [0, 1000, 2000, 3000, 4000];
const xTicksB = [0, 2000, 4000, 6000, 8000, 10000, 12000];
const xTicksC = [0, 2000, 4000, 6000, 8000];

const zip = (t: number[], v: number[]): Pt[] => t.map((d, i) => [d, v[i]]);

interface PanelDef {
  label: string;
  labelX: number;
  top: number;
  xMax: number;
  yMin: number;
  yMax: number;
  xTicks: number[];
  series: Record<string, Pt[]>;
}

const panels: PanelDef[] = [
  {
    label: "A", labelX: 1560, top: 255, xMax: 4000, yMin: 1e3, yMax: 3e5, xTicks: xTicksA,
    series: {
      "FMPS NF": zip(timeA_NF, A_FMPS_NF), "CPC NF": zip(timeA_NF, A_CPC_NF), "FMPS FF2": A_FMPS_FF2,
      "CPC FF2": A_CPC_FF2, "CPC FF3": A_CPC_FF3, "FMPS FF4": A_FMPS_FF4, "CPC FF4": A_CPC_FF4,
    },
  },
  {
    label: "B", labelX: 1543, top: 1108, xMax: 12000, yMin: 1e3, yMax: 1e5, xTicks: xTicksB,
    series: {
      "FMPS NF": B_FMPS_NF, "CPC NF": B_CPC_NF, "CPC FF1": B_CPC_FF1, "FMPS FF2": B_FMPS_FF2, "CPC FF2": B_CPC_FF2,
      "CPC FF3": B_CPC_FF3, "FMPS FF4": B_FMPS_FF4, "CPC FF4": B_CPC_FF4,
    },
  },
  {
    label: "C", labelX: 1545, top: 1958, xMax: 8000, yMin: 1e2, yMax: 3e4, xTicks: xTicksC,
    series: {
      "FMPS NF": C_FMPS_NF, "CPC NF": C_CPC_NF, "CPC FF1": C_CPC_FF1, "FMPS FF2": C_FMPS_FF2,
      "CPC FF3": C_CPC_FF3, "FMPS FF4": C_FMPS_FF4, "CPC FF4": C_CPC_FF4,
    },
  },
];

const LEFT = 240;
const RIGHT = 1608;
const PANEL_H = 745;
const AXIS = "#262626";
const FONT = "'Liberation Sans', Arial, Helvetica, sans-serif";

const Panel: React.FC<{ p: PanelDef; idx: number }> = ({ p, idx }) => {
  const bottom = p.top + PANEL_H;
  const x = d3.scaleLinear().domain([0, p.xMax]).range([LEFT, RIGHT]);
  const y = d3.scaleLog().domain([p.yMin, p.yMax]).range([bottom, p.top]);
  const line = d3
    .line<Pt>()
    .x((d) => x(d[0]))
    .y((d) => y(d[1]));

  const lo = Math.round(Math.log10(p.yMin));
  const hi = Math.floor(Math.log10(p.yMax));
  const majors = d3.range(lo, hi + 1).map((e) => Math.pow(10, e));
  const minors: number[] = [];
  majors.forEach((m) => {
    for (let k = 2; k <= 9; k++) if (m * k <= p.yMax) minors.push(m * k);
  });
  const clipId = `clip-${idx}`;

  return (
    <g>
      <defs>
        <clipPath id={clipId}>
          <rect x={LEFT} y={p.top} width={RIGHT - LEFT} height={PANEL_H} />
        </clipPath>
      </defs>
      <rect x={LEFT} y={p.top} width={RIGHT - LEFT} height={PANEL_H} fill="#fff" />
      <g clipPath={`url(#${clipId})`}>
        {seriesNames
          .filter((n) => p.series[n])
          .map((n) => {
            const s = seriesStyle[n];
            return (
              <path
                key={n}
                d={line(p.series[n]) ?? ""}
                fill="none"
                stroke={s.color}
                strokeWidth={s.width}
                strokeDasharray={s.dash ?? undefined}
                strokeLinejoin="round"
              />
            );
          })}
      </g>
      {/* ticks, inward on all four sides */}
      <g stroke={AXIS} strokeWidth={2.5}>
        {p.xTicks.map((t) => (
          <g key={`xt${t}`}>
            <line x1={x(t)} x2={x(t)} y1={bottom} y2={bottom - 13} />
            <line x1={x(t)} x2={x(t)} y1={p.top} y2={p.top + 13} />
          </g>
        ))}
        {majors.map((m) => (
          <g key={`ym${m}`}>
            <line x1={LEFT} x2={LEFT + 13} y1={y(m)} y2={y(m)} />
            <line x1={RIGHT} x2={RIGHT - 13} y1={y(m)} y2={y(m)} />
          </g>
        ))}
        {minors.map((m) => (
          <g key={`yn${m}`}>
            <line x1={LEFT} x2={LEFT + 7} y1={y(m)} y2={y(m)} />
            <line x1={RIGHT} x2={RIGHT - 7} y1={y(m)} y2={y(m)} />
          </g>
        ))}
      </g>
      <rect x={LEFT} y={p.top} width={RIGHT - LEFT} height={PANEL_H} fill="none" stroke={AXIS} strokeWidth={3} />
      {/* tick labels */}
      <g fill={AXIS} fontFamily={FONT}>
        {p.xTicks.map((t) => (
          <text key={`xl${t}`} x={x(t)} y={bottom + 72} fontSize={55} textAnchor="middle">
            {t}
          </text>
        ))}
        {majors.map((m) => (
          <text key={`yl${m}`} x={222} y={y(m) + 28} fontSize={55} textAnchor="end">
            10
            <tspan dy={-27} fontSize={40}>
              {Math.round(Math.log10(m))}
            </tspan>
          </text>
        ))}
      </g>
      <text x={p.labelX} y={p.top + 97} fontSize={52} fontFamily={FONT} textAnchor="middle" fill="#000">
        {p.label}
      </text>
    </g>
  );
};

const legendCols = [
  { x1: 250, x2: 340, names: ["FMPS NF", "CPC NF"] },
  { x1: 703, x2: 795, names: ["CPC FF1", "FMPS FF2", "CPC FF2"] },
  { x1: 1167, x2: 1259, names: ["CPC FF3", "FMPS FF4", "CPC FF4"] },
];
const legendRows = [64, 134, 204];

const Legend: React.FC = () => (
  <g fontFamily={FONT}>
    <rect x={239} y={26} width={1369} height={208} fill="#fff" stroke="#000" strokeWidth={3.5} />
    {legendCols.map((c) =>
      c.names.map((n, i) => {
        const s = seriesStyle[n];
        const yy = legendRows[i];
        return (
          <g key={n}>
            <line
              x1={c.x1}
              x2={c.x2}
              y1={yy}
              y2={yy}
              stroke={s.color}
              strokeWidth={12}
              strokeDasharray={s.legendDash ?? undefined}
            />
            <text x={c.x2 + 6} y={yy + 23} fontSize={64} fill="#000">
              {n}
            </text>
          </g>
        );
      })
    )}
  </g>
);

export default function App() {
  return (
    <svg
      width={1702}
      height={2885}
      viewBox="0 0 1702 2885"
      style={{ position: "absolute", left: 0, top: 0, background: "#fff" }}
    >
      <rect x={0} y={0} width={1702} height={2885} fill="#fff" />
      <Legend />
      {panels.map((p, i) => (
        <Panel key={p.label} p={p} idx={i} />
      ))}
      <text
        transform="translate(118,1433) rotate(-90)"
        textAnchor="middle"
        fontSize={91}
        fontFamily={FONT}
        fill="#000"
      >
        Total number concentration [cm
        <tspan dy={-37} fontSize={82}>
          -3
        </tspan>
        <tspan dy={37}>]</tspan>
      </text>
      <text x={924} y={2847} textAnchor="middle" fontSize={55} fontFamily={FONT} fill={AXIS}>
        Time [sec]
      </text>
    </svg>
  );
}
